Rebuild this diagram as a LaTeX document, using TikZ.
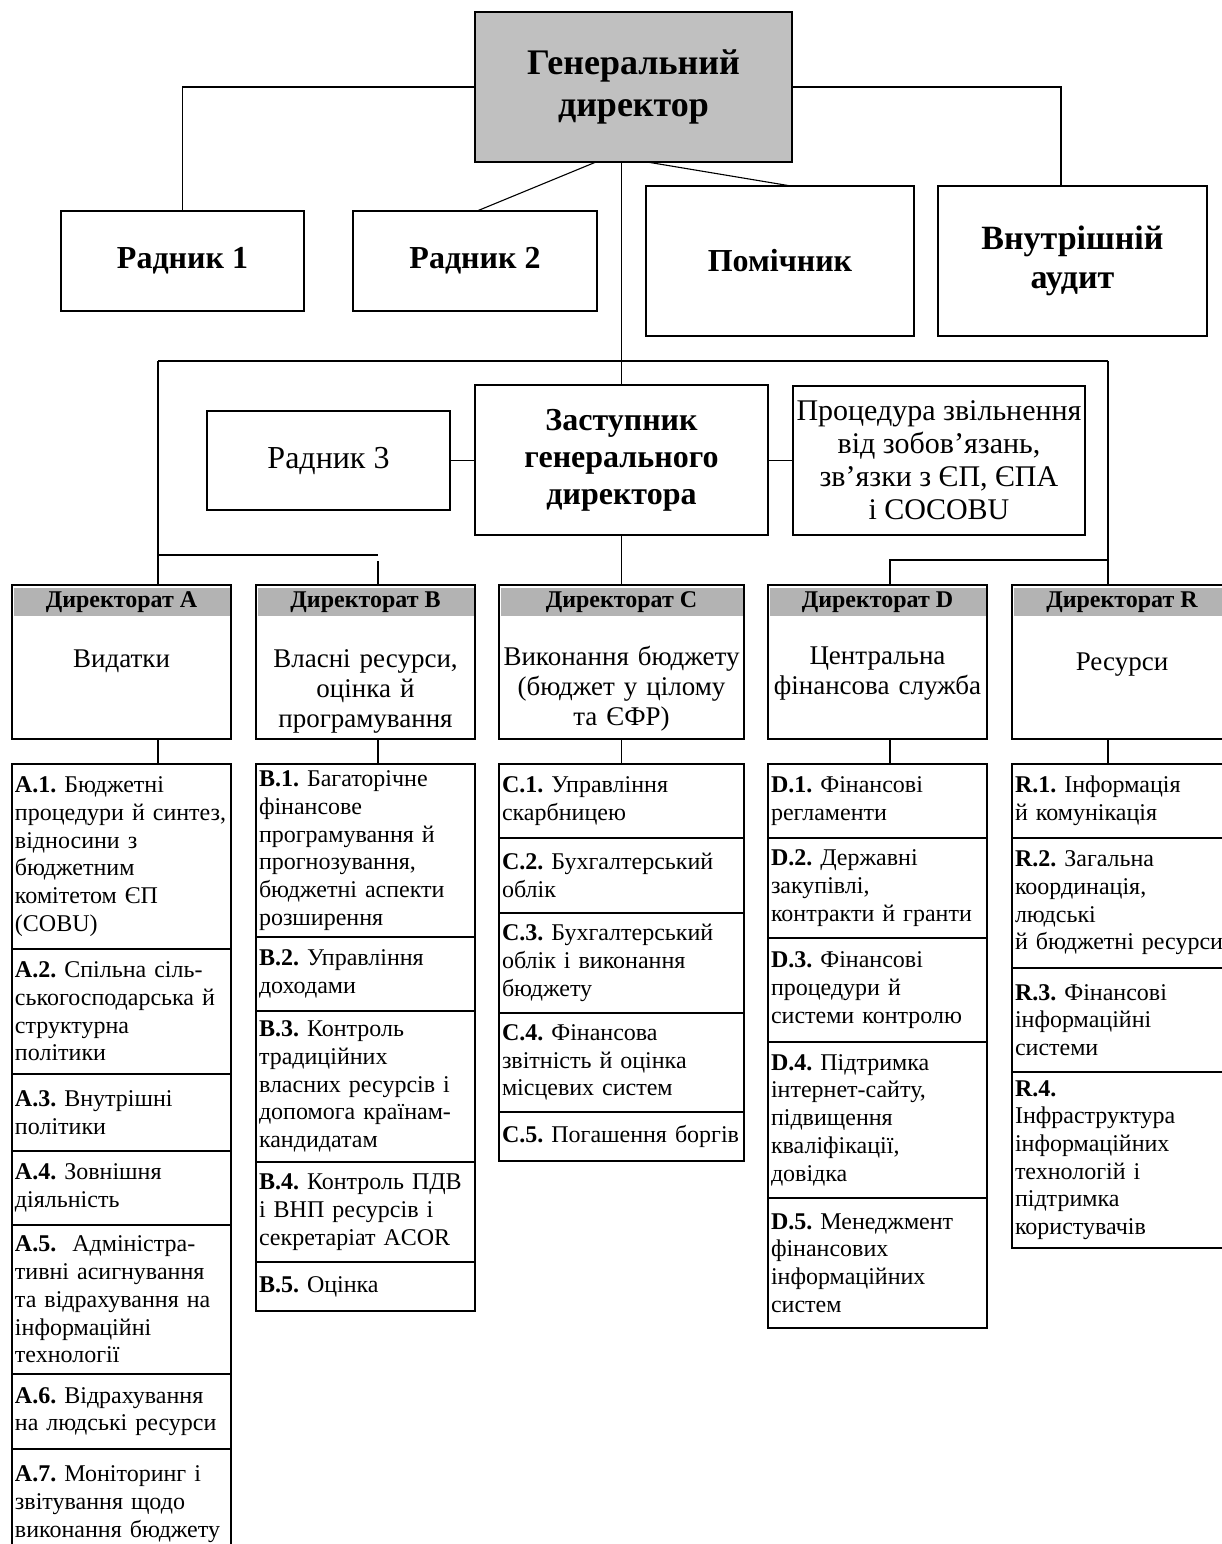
\documentclass[tikz,border=0pt]{standalone}
\usepackage{fontspec}
\setmainfont{Liberation Serif}
\usetikzlibrary{positioning}
\definecolor{topGray}{HTML}{C0C0C0}
\definecolor{headGray}{HTML}{B3B3B3}
\frenchspacing

\begin{document}
\begin{tikzpicture}[x=0.5pt,y=-0.5pt,%%
  boxStyle/.style={draw,line width=0.65pt,outer sep=0pt,inner sep=0pt,anchor=north west,align=center},%%
  boxSize/.style 2 args={minimum width=#1*0.5pt,minimum height=#2*0.5pt},%%
  bigStyle/.style={boxStyle,font=\bfseries\fontsize{16}{18.4}\selectfont},%%
  plainStyle/.style={boxStyle,font=\fontsize{16}{18.4}\selectfont},%%
  headStyle/.style={fill=headGray,inner sep=0pt,anchor=north,minimum height=14pt,font=\bfseries\fontsize{12}{13.8}\selectfont},%%
  titleStyle/.style={inner sep=0pt,anchor=base,align=center,font=\fontsize{13.5}{15}\selectfont},%%
  subStyle/.style={draw,line width=0.65pt,outer sep=0pt,inner xsep=1.5pt,inner ysep=0pt,align=left,font=\fontsize{12}{13.85}\selectfont},%%
  subSize/.style 2 args={minimum width=#1*0.5pt,text width=#1*0.5pt-3pt,minimum height=#2*0.5pt},%%
  lineStyle/.style={-,line width=0.55pt}%%
]
%%
\path[use as bounding box,clip] (0,0) rectangle (1222,1544);
\fill[white] (0,0) rectangle (1222,1544);
%%
%% Top level.
\node[bigStyle,boxSize={317}{150},fill=topGray,font=\bfseries\fontsize{18}{20.7}\selectfont] (gd) at (475,12) {Генеральний\\директор};
\node[bigStyle,boxSize={243}{100}] (r1) at (61,211) {Радник 1};
\node[bigStyle,boxSize={244}{100}] (r2) at (353,211) {Радник 2};
\node[bigStyle,boxSize={268}{150}] (pom) at (646,186) {Помічник};
\node[bigStyle,boxSize={269}{150},font=\bfseries\fontsize{17}{19.5}\selectfont] (audit) at (938,186) {Внутрішній\\аудит};
%% Deputy level.
\node[bigStyle,boxSize={293}{150}] (dep) at (475,385) {Заступник\\генерального\\директора};
\node[plainStyle,boxSize={243}{99}] (r3) at (207,411) {Радник 3};
\node[plainStyle,boxSize={292}{149},font=\fontsize{15}{16.5}\selectfont] (proc) at (793,386) {Процедура звільнення\\від зобов’язань,\\зв’язки з ЄП, ЄПА\\і COCOBU};
%%
%% Directorates.
\node[boxStyle,boxSize={219}{154}] (dirA) at (12,585) {};
\node[headStyle,minimum width=108pt] (headA) at ([yshift=-1.5pt]dirA.north) {Директорат A};
\node[titleStyle,text width=105pt] (titleA) at ([yshift=-41pt]dirA.north) {Видатки};
\node[boxStyle,boxSize={219}{154}] (dirB) at (256,585) {};
\node[headStyle,minimum width=108pt] (headB) at ([yshift=-1.5pt]dirB.north) {Директорат B};
\node[titleStyle,text width=105pt] (titleB) at ([yshift=-41pt]dirB.north) {Власні ресурси,\\оцінка й\\програмування};
\node[boxStyle,boxSize={245}{154}] (dirC) at (499,585) {};
\node[headStyle,minimum width=121pt] (headC) at ([yshift=-1.5pt]dirC.north) {Директорат C};
\node[titleStyle,text width=120pt] (titleC) at ([yshift=-40pt]dirC.north) {Виконання бюджету\\(бюджет у цілому\\та ЄФР)};
\node[boxStyle,boxSize={219}{154}] (dirD) at (768,585) {};
\node[headStyle,minimum width=108pt] (headD) at ([yshift=-1.5pt]dirD.north) {Директорат D};
\node[titleStyle,text width=108pt] (titleD) at ([yshift=-39.5pt]dirD.north) {Центральна\\фінансова служба};
\node[boxStyle,boxSize={220}{154}] (dirR) at (1012,585) {};
\node[headStyle,minimum width=108.5pt] (headR) at ([yshift=-1.5pt]dirR.north) {Директорат R};
\node[titleStyle,text width=105pt] (titleR) at ([yshift=-42.5pt]dirR.north) {Ресурси};
%%
%% Units of directorate A.
\node[subStyle,subSize={219}{185},anchor=north west] (A1) at (12,764) {\textbf{A.1.} Бюджетні\\процедури й синтез,\\відносини з\\бюджетним\\комітетом ЄП\\(COBU)};
\node[subStyle,subSize={219}{125},below=0pt of A1] (A2) {\textbf{A.2.} Спільна сіль-\\ськогосподарська й\\структурна\\політики};
\node[subStyle,subSize={219}{77},below=0pt of A2] (A3) {\textbf{A.3.} Внутрішні\\політики};
\node[subStyle,subSize={219}{74},below=0pt of A3] (A4) {\textbf{A.4.} Зовнішня\\діяльність};
\node[subStyle,subSize={219}{149},below=0pt of A4] (A5) {\textbf{A.5.}\ \ Адміністра-\\тивні асигнування\\та відрахування на\\інформаційні\\технології};
\node[subStyle,subSize={219}{75},below=0pt of A5] (A6) {\textbf{A.6.} Відрахування\\на людські ресурси};
\node[subStyle,subSize={219}{110},below=0pt of A6] (A7) {\textbf{A.7.} Моніторинг і\\звітування щодо\\виконання бюджету};
%% Units of directorate B.
\node[subStyle,subSize={219}{173},anchor=north west] (B1) at (256,764) {\textbf{B.1.} Багаторічне\\фінансове\\програмування й\\прогнозування,\\бюджетні аспекти\\розширення};
\node[subStyle,subSize={219}{74},below=0pt of B1] (B2) {\textbf{B.2.} Управління\\доходами};
\node[subStyle,subSize={219}{151},below=0pt of B2] (B3) {\textbf{B.3.} Контроль\\традиційних\\власних ресурсів і\\допомога країнам-\\кандидатам};
\node[subStyle,subSize={219}{100},below=0pt of B3] (B4) {\textbf{B.4.} Контроль ПДВ\\і ВНП ресурсів і\\секретаріат ACOR};
\node[subStyle,subSize={219}{49},below=0pt of B4] (B5) {\textbf{B.5.} Оцінка};
%% Units of directorate C.
\node[subStyle,subSize={245}{74},anchor=north west] (C1) at (499,764) {\textbf{C.1.} Управління\\скарбницею};
\node[subStyle,subSize={245}{75},below=0pt of C1] (C2) {\textbf{C.2.} Бухгалтерський\\облік};
\node[subStyle,subSize={245}{100},below=0pt of C2] (C3) {\textbf{C.3.} Бухгалтерський\\облік і виконання\\бюджету};
\node[subStyle,subSize={245}{99},below=0pt of C3] (C4) {\textbf{C.4.} Фінансова\\звітність й оцінка\\місцевих систем};
\node[subStyle,subSize={245}{49},below=0pt of C4] (C5) {\textbf{C.5.} Погашення боргів};
%% Units of directorate D.
\node[subStyle,subSize={219}{74},anchor=north west] (D1) at (768,764) {\textbf{D.1.} Фінансові\\регламенти};
\node[subStyle,subSize={219}{100},below=0pt of D1] (D2) {\textbf{D.2.} Державні\\закупівлі,\\контракти й гранти};
\node[subStyle,subSize={219}{104},below=0pt of D2] (D3) {\textbf{D.3.} Фінансові\\процедури й\\системи контролю};
\node[subStyle,subSize={219}{156},below=0pt of D3] (D4) {\textbf{D.4.} Підтримка\\інтернет-сайту,\\підвищення\\кваліфікації,\\довідка};
\node[subStyle,subSize={219}{130},below=0pt of D4] (D5) {\textbf{D.5.} Менеджмент\\фінансових\\інформаційних\\систем};
%% Units of directorate R.
\node[subStyle,subSize={220}{74},anchor=north west] (R1) at (1012,764) {\textbf{R.1.} Інформація\\й комунікація};
\node[subStyle,subSize={220}{130},below=0pt of R1] (R2) {\textbf{R.2.} Загальна\\координація,\\людські\\й бюджетні ресурси};
\node[subStyle,subSize={220}{104},below=0pt of R2] (R3) {\textbf{R.3.} Фінансові\\інформаційні\\системи};
\node[subStyle,subSize={220}{176},below=0pt of R3] (R4) {\textbf{R.4.}\\Інфраструктура\\інформаційних\\технологій і\\підтримка\\користувачів};
\draw[line width=1.3pt] (R3.south west) -- (R3.south east);
%%
%% Connectors.
\coordinate (trunkA) at (158,361);
\coordinate (trunkR) at (1108,361);
\coordinate (joinAB) at (158,555);
\coordinate (endAB) at (378,555);
\coordinate (trunkB) at (378,561);
\coordinate (joinDR) at (1108,560);
\coordinate (trunkD) at (890,560);
%%
\draw[lineStyle] (gd.west) -| (r1.north);
\draw[lineStyle] (gd.east) -| ([xshift=-5.75pt]audit.north);
\draw[lineStyle] ([xshift=60.5pt]gd.south west) -- ([xshift=62pt]r2.north west);
\draw[lineStyle] ([xshift=86pt]gd.south west) -- ([xshift=72.5pt]pom.north west);
\draw[lineStyle] (dep.north |- gd.south) -- (dep.north);
\draw[lineStyle] (r3.east) -- (r3.east -| dep.west);
\draw[lineStyle] (proc.west |- r3.east) -- (r3.east -| dep.east);
\draw[lineStyle] (trunkA) -- (trunkR);
\draw[lineStyle] (trunkA) -- (trunkA |- dirA.north);
\draw[lineStyle] (joinAB) -- (endAB);
\draw[lineStyle] (trunkB) -- (trunkB |- dirB.north);
\draw[lineStyle] (dep.south) -- (dep.south |- dirC.north);
\draw[lineStyle] (trunkR) -- (trunkR |- dirR.north);
\draw[lineStyle] (joinDR) -- (trunkD) -- (trunkD |- dirD.north);
%%
\draw[lineStyle] (trunkA |- dirA.south) -- (trunkA |- A1.north);
\draw[lineStyle] (trunkB |- dirB.south) -- (trunkB |- B1.north);
\draw[lineStyle] (dirC.south) -- (dirC.south |- C1.north);
\draw[lineStyle] (trunkD |- dirD.south) -- (trunkD |- D1.north);
\draw[lineStyle] (trunkR |- dirR.south) -- (trunkR |- R1.north);
\end{tikzpicture}
\end{document}
